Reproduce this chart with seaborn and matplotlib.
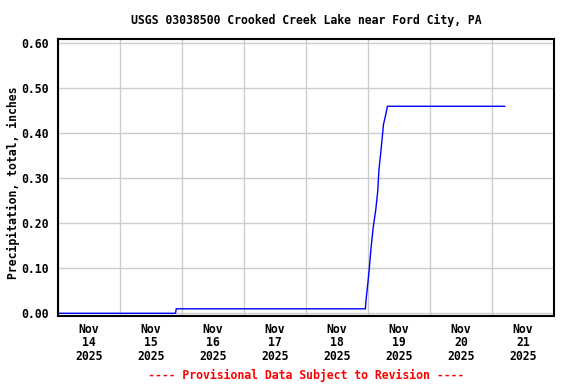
import matplotlib
matplotlib.use("Agg")
import matplotlib.pyplot as plt
import matplotlib.dates as mdates
import matplotlib.ticker as mticker
import seaborn as sns
import pandas as pd

title = "USGS 03038500 Crooked Creek Lake near Ford City, PA"
ylabel = "Precipitation, total, inches"
footer = "---- Provisional Data Subject to Revision ----"

times = [
    "2025-11-14 00:00", "2025-11-15 21:30", "2025-11-15 21:45",
    "2025-11-18 23:00", "2025-11-18 23:15", "2025-11-19 00:00",
    "2025-11-19 00:30", "2025-11-19 01:15", "2025-11-19 02:00",
    "2025-11-19 03:00", "2025-11-19 03:45", "2025-11-19 04:15",
    "2025-11-19 05:00", "2025-11-19 06:00", "2025-11-19 07:00",
    "2025-11-19 07:30", "2025-11-21 05:00",
]
precip = [
    0.00, 0.00, 0.01,
    0.01, 0.03, 0.07,
    0.10, 0.15, 0.19,
    0.23, 0.27, 0.32,
    0.36, 0.42, 0.445,
    0.46, 0.46,
]
yticks = [0.00, 0.10, 0.20, 0.30, 0.40, 0.50, 0.60]

df = pd.DataFrame({"time": pd.to_datetime(times), "precip": precip})

sns.set_theme(style="white")
plt.rcParams["font.family"] = ["DejaVu Sans Mono"]
plt.rcParams["font.weight"] = "bold"
plt.rcParams["text.color"] = "black"
plt.rcParams["axes.labelcolor"] = "black"
plt.rcParams["xtick.color"] = "black"
plt.rcParams["ytick.color"] = "black"
fs = 8.3

fig = plt.figure(figsize=(5.76, 3.84), dpi=100)
ax = fig.add_axes([58/576, 1-316/384, (554-58)/576, (316-39)/384])

sns.lineplot(data=df, x="time", y="precip", ax=ax, color="#0000ff",
             linewidth=1.0, estimator=None, sort=False)

ax.set_xlim(pd.Timestamp("2025-11-14 00:00"), pd.Timestamp("2025-11-22 00:00"))
ax.set_ylim(-0.006, 0.6095)
ax.set_yticks(yticks)
ax.yaxis.set_major_formatter(mticker.FormatStrFormatter("%.2f"))

ax.xaxis.set_major_locator(mdates.DayLocator())
ax.xaxis.set_major_formatter(mticker.NullFormatter())
ax.xaxis.set_minor_locator(mdates.HourLocator(byhour=[12]))
ax.xaxis.set_minor_formatter(mdates.DateFormatter("%b\n%d\n%Y"))

ax.grid(True, which="major", color="#cccccc", linewidth=1.0)
ax.set_axisbelow(True)
ax.tick_params(axis="both", which="both", length=0, colors="black")
ax.tick_params(axis="x", which="minor", pad=5, labelsize=fs)
ax.tick_params(axis="y", which="major", pad=7, labelsize=fs)
for lab in ax.get_xticklabels(minor=True):
    lab.set_linespacing(1.05)
    lab.set_fontweight("bold")
for lab in ax.get_yticklabels():
    lab.set_fontweight("bold")

for s in ax.spines.values():
    s.set_color("black")
    s.set_linewidth(1.5)

ax.set_xlabel("")
ax.set_ylabel(ylabel, fontsize=fs, fontweight="bold", color="black")
ax.yaxis.set_label_coords(-0.076, 0.48)

fig.text(306/576, 1-20/384, title, ha="center", va="center",
         fontsize=fs, fontweight="bold", color="black")
fig.text(306/576, 1-375/384, footer, ha="center", va="center",
         fontsize=fs, fontweight="bold", color="#ff0000")

fig.savefig("out.png", dpi=100)
